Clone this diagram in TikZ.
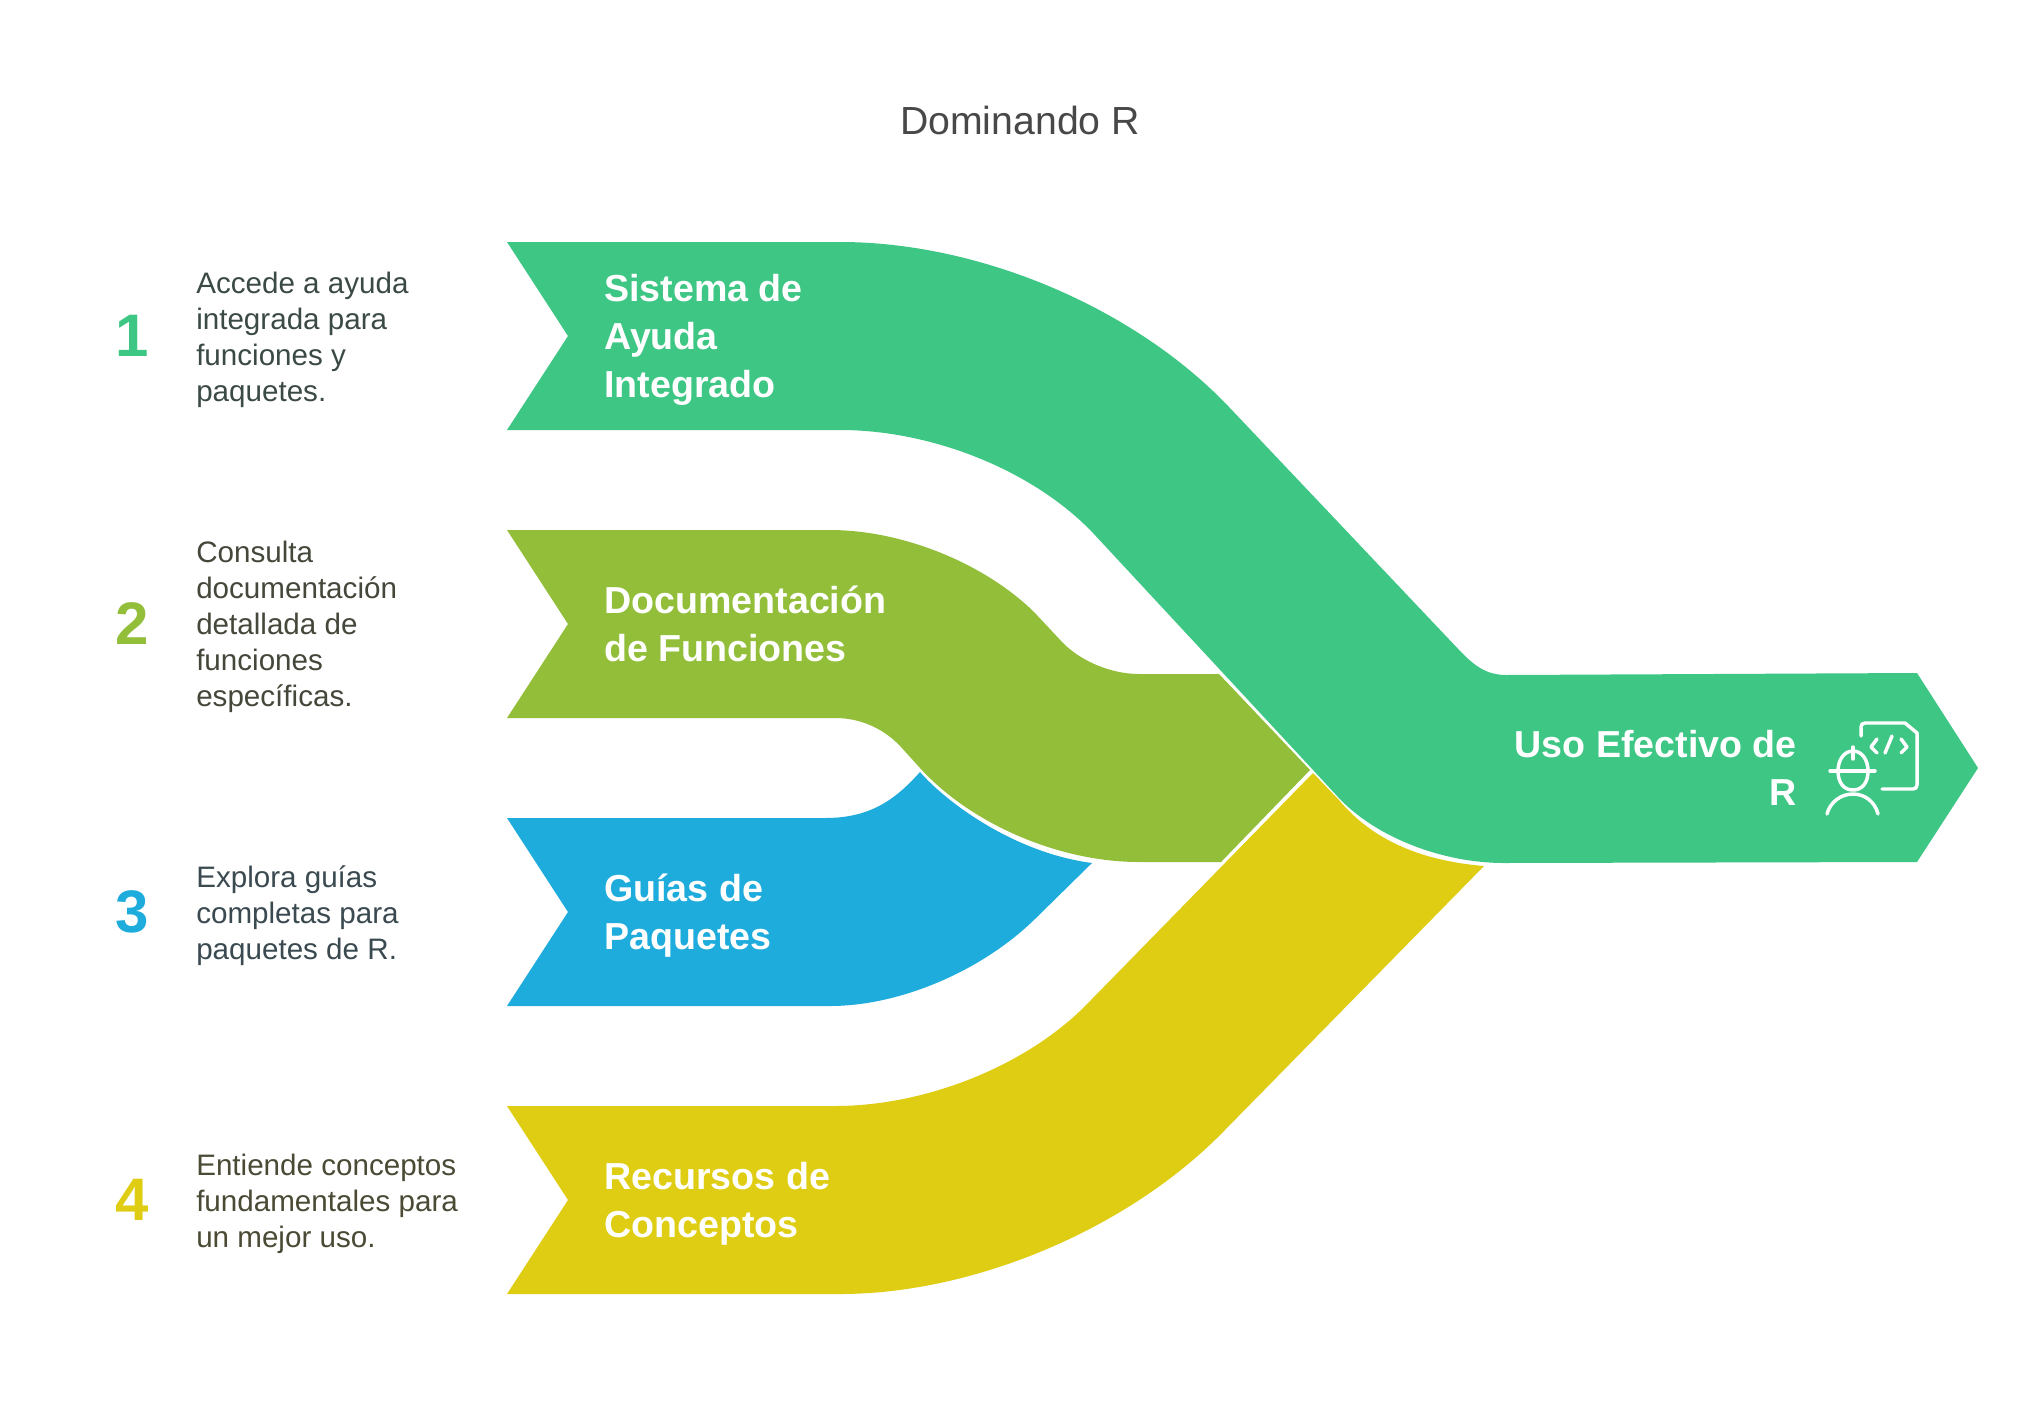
\documentclass[tikz,border=0pt]{standalone}
\usepackage{fontspec}
\setmainfont{Liberation Sans}
\definecolor{cgreen}{HTML}{3EC684}
\definecolor{colive}{HTML}{92BE3A}
\definecolor{cblue}{HTML}{1EACDC}
\definecolor{cyellow}{HTML}{DFCD13}
\definecolor{ttitle}{HTML}{484848}
\definecolor{tgreen}{HTML}{3B4A44}
\definecolor{tolive}{HTML}{43483A}
\definecolor{tblue}{HTML}{3A4A50}
\definecolor{tyellow}{HTML}{4A4A35}
\tikzset{
  band/.style={draw=none},
  titletext/.style={text=ttitle,font=\fontsize{29.4pt}{36pt}\selectfont,anchor=center},
  desc/.style={anchor=west,align=left,inner sep=0pt,font=\fontsize{22.2pt}{27pt}\selectfont},
  bandtext/.style={anchor=west,align=left,inner sep=0pt,text=white,font=\fontsize{28.2pt}{36pt}\selectfont\bfseries},
  num/.style={anchor=center,inner sep=0pt,font=\fontsize{45pt}{50pt}\selectfont\bfseries},
  icon/.style={draw=white,line width=2.6pt,line cap=round,line join=round}
}
\begin{document}
\begin{tikzpicture}[x=0.75pt,y=-0.75pt]
\fill[white] (0,0) rectangle (2040,1417);
\useasboundingbox (0,0) rectangle (2040,1417);
% yellow band
\fill[cyellow,band] (507,1106) -- (835,1106) .. controls (928,1106) and (1031,1064) .. (1091,1000)
  -- (1313,773) -- (1339,800) .. controls (1373,841) and (1423,861) .. (1484,866)
  -- (1223,1132) .. controls (1128,1229) and (974,1294) .. (840,1294) -- (507,1294) -- (568,1200) -- cycle;
% blue band
\fill[cblue,band] (507,818) -- (825,818) .. controls (870,818) and (895,800) .. (920,772)
  .. controls (947,803) and (1015,853) .. (1092,863)
  -- (1037,917) .. controls (984,970) and (901,1006) .. (830,1006) -- (507,1006) -- (568,912) -- cycle;
% olive band
\fill[colive,band] (507,530) -- (830,530) .. controls (902,530) and (984,563) .. (1034,612)
  -- (1063,643) .. controls (1082,662) and (1112,674) .. (1139,674)
  -- (1219,674) -- (1310,770) -- (1221,862) -- (1139,862)
  .. controls (1059,862) and (971,824) .. (920,768)
  -- (901,747) .. controls (890,735) and (868,718) .. (835,718)
  -- (507,718) -- (568,624) -- cycle;
% green band
\fill[cgreen,band] (507,242) -- (840,242) .. controls (980,242) and (1135,308) .. (1229,407)
  -- (1462,653) .. controls (1474,665) and (1486,675) .. (1506,675)
  -- (1917,673) -- (1978,768) -- (1917,862) -- (1504,863)
  .. controls (1442,863) and (1375,837) .. (1338,797)
  -- (1314,771) -- (1093,533) .. controls (1034,471) and (933,430) .. (840,430)
  -- (507,430) -- (568,336) -- cycle;
% icon
\draw[icon] (1861,736) -- (1861,727) .. controls (1861,724.5) and (1862.5,723) .. (1865,723)
  -- (1905,723) -- (1917,733) -- (1917,785) .. controls (1917,787.5) and (1915.5,789) .. (1913,789) -- (1882,789);
\draw[icon] (1877,739) -- (1871,747) -- (1877,753);
\draw[icon] (1892,736) -- (1885,753);
\draw[icon] (1901,739) -- (1907,747) -- (1901,753);
\draw[icon] (1830,771) -- (1875,771);
\draw[icon] (1853,747) -- (1853,759);
\draw[icon] (1838,771) .. controls (1838,760) and (1844,751) .. (1853,751) .. controls (1862,751) and (1868,760) .. (1868,771)
  .. controls (1868,783) and (1862,790) .. (1853,790) .. controls (1844,790) and (1838,783) .. (1838,771);
\draw[icon] (1827,814) .. controls (1830,802) and (1841,794) .. (1853,794) .. controls (1865,794) and (1875,802) .. (1878,814);
% texts
\node[titletext] (title) at (1020,120) {Dominando R};
\node[num,text=cgreen] (n1) at (132,336) {1};
\node[num,text=colive] (n2) at (132,624) {2};
\node[num,text=cblue] (n3) at (132,912) {3};
\node[num,text=cyellow] (n4) at (132,1200) {4};
\node[desc,text=tgreen] (d1) at (196,340) {Accede a ayuda\\integrada para\\funciones y\\paquetes.};
\node[desc,text=tolive] (d2) at (196,627) {Consulta\\documentación\\detallada de\\funciones\\específicas.};
\node[desc,text=tblue] (d3) at (196,916) {Explora guías\\completas para\\paquetes de R.};
\node[desc,text=tyellow] (d4) at (196,1204) {Entiende conceptos\\fundamentales para\\un mejor uso.};
\node[bandtext] (b1) at (604,340) {Sistema de\\Ayuda\\Integrado};
\node[bandtext] (b2) at (604,624) {Documentación\\de Funciones};
\node[bandtext] (b3) at (604,916) {Guías de\\Paquetes};
\node[bandtext] (b4) at (604,1204) {Recursos de\\Conceptos};
\node[bandtext,anchor=east,align=right] (b5) at (1797,768) {Uso Efectivo de\\R};
\end{tikzpicture}
\end{document}
